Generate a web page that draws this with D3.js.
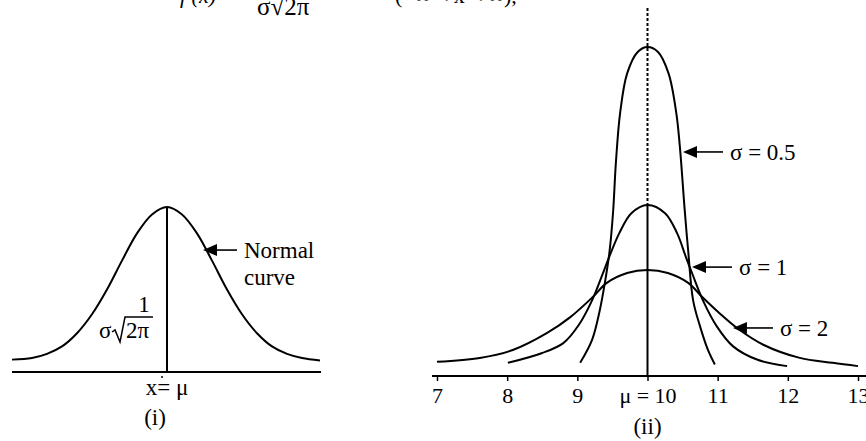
<!DOCTYPE html>
<html>
<head>
<meta charset="utf-8">
<script src="https://cdn.jsdelivr.net/npm/d3@7"></script>
<style>
  body { margin: 0; background: #fff; }
  svg { display: block; }
  text { font-family: "Liberation Serif", "Times New Roman", serif; fill: #000; }
</style>
</head>
<body>
<div id="chart"></div>
<script>
// panel (i): a normal curve, x in sigma units about the mean, height relative to the peak
const normX = [-3.1, -2.7, -2.4, -2.1, -1.8, -1.5, -1.2, -0.9, -0.6, -0.3, 0, 0.3, 0.6, 0.9, 1.2, 1.5, 1.8, 2.1, 2.4, 2.7, 3.06];
const normH = [0.075, 0.085, 0.11, 0.155, 0.235, 0.35, 0.5, 0.675, 0.84, 0.955, 1.0, 0.955, 0.84, 0.675, 0.5, 0.35, 0.235, 0.155, 0.11, 0.085, 0.07];

// panel (ii): three curves with mean 10, heights relative to the sigma = 0.5 peak
const s05X = [9.04, 9.21, 9.32, 9.39, 9.46, 9.51, 9.55, 9.61, 9.71, 9.86, 10.0, 10.15, 10.3, 10.41, 10.46, 10.53, 10.58, 10.65, 10.75, 10.86, 10.96];
const s05H = [0.04, 0.11, 0.2, 0.28, 0.38, 0.5, 0.65, 0.8, 0.92, 0.985, 1.0, 0.985, 0.92, 0.8, 0.7, 0.505, 0.38, 0.23, 0.15, 0.08, 0.035];

const s1X = [8.01, 8.5, 8.8, 9.02, 9.21, 9.36, 9.46, 9.6, 9.77, 10.0, 10.25, 10.42, 10.55, 10.64, 10.79, 10.99, 11.22, 11.56, 11.99];
const s1H = [0.04, 0.07, 0.1, 0.155, 0.23, 0.31, 0.365, 0.435, 0.495, 0.52, 0.495, 0.435, 0.36, 0.31, 0.23, 0.15, 0.09, 0.05, 0.03];

const s2X = [7.0, 7.61, 8.08, 8.57, 8.9, 9.22, 9.42, 9.71, 10.0, 10.29, 10.58, 10.78, 11.03, 11.28, 11.65, 12.17, 12.64, 13.0];
const s2H = [0.043, 0.055, 0.079, 0.131, 0.179, 0.24, 0.283, 0.313, 0.322, 0.313, 0.283, 0.24, 0.19, 0.145, 0.095, 0.055, 0.04, 0.03];

const ticks = [7, 8, 9, 10, 11, 12, 13];
const tickLabels = ["7", "8", "9", "\u03bc = 10", "11", "12", "13"];

// where the arrows touch the curves
const sigmaLabels = ["\u03c3 = 0.5", "\u03c3 = 1", "\u03c3 = 2"];
const sigmaArrowX = [10.506, 10.634, 11.218];
const sigmaArrowH = [0.681, 0.331, 0.146];

const W = 866, H = 441;
const svg = d3.select("#chart").append("svg")
    .attr("width", W)
    .attr("height", H);

// top line of the formula, cut off by the page edge (as in the scan)
svg.append("text").attr("x", 180).attr("y", 3)
    .style("font-size", "22px").style("font-style", "italic").text("f (x) =");
svg.append("text").attr("x", 257).attr("y", 15)
    .style("font-size", "25px").text("\u03c3\u221a2\u03c0");
svg.append("text").attr("x", 395).attr("y", 3)
    .style("font-size", "22px").text("(\u2212\u221e < x < \u221e),");

// ---------- panel (i)
const xL = d3.scaleLinear().domain([-3.1, 3.1]).range([12, 322]);
const yL = d3.scaleLinear().domain([0, 1]).range([372, 207]);

const left = svg.append("g");

left.append("line")
    .attr("x1", xL.range()[0]).attr("x2", xL.range()[1] - 1)
    .attr("y1", yL(0)).attr("y2", yL(0))
    .attr("stroke", "#000").attr("stroke-width", 2);

left.append("line")
    .attr("x1", xL(0)).attr("x2", xL(0))
    .attr("y1", yL(1)).attr("y2", yL(0))
    .attr("stroke", "#000").attr("stroke-width", 2);

const lineL = d3.line()
    .x(d => xL(d[0]))
    .y(d => yL(d[1]))
    .curve(d3.curveCatmullRom.alpha(0.5));

left.append("path")
    .datum(d3.zip(normX, normH))
    .attr("d", lineL)
    .attr("fill", "none")
    .attr("stroke", "#000")
    .attr("stroke-width", 2);

// peak height label 1 / (sigma sqrt(2 pi))
const cx = xL(0);
left.append("text").attr("x", cx - 23).attr("y", 312)
    .attr("text-anchor", "middle").style("font-size", "23px").text("1");
left.append("text").attr("x", cx - 68).attr("y", 338)
    .style("font-size", "23px").text("\u03c3");
left.append("path")
    .attr("d", `M${cx - 55},${332} L${cx - 52},${330} L${cx - 47},${342} L${cx - 42},${317} L${cx - 14},${317}`)
    .attr("fill", "none").attr("stroke", "#000").attr("stroke-width", 1.5);
left.append("text").attr("x", cx - 41).attr("y", 338)
    .style("font-size", "23px").text("2\u03c0");

left.append("circle").attr("cx", cx - 5).attr("cy", 377).attr("r", 1).attr("fill", "#000");
left.append("text").attr("x", cx).attr("y", 395)
    .attr("text-anchor", "middle").style("font-size", "23px").text("x= \u03bc");
left.append("text").attr("x", cx - 12).attr("y", 425)
    .attr("text-anchor", "middle").style("font-size", "23px").text("(i)");

// ---------- panel (ii)
const xR = d3.scaleLinear().domain([7, 13]).range([437, 858]);
const yR = d3.scaleLinear().domain([0, 1]).range([376, 47]);

const right = svg.append("g");

right.append("line")
    .attr("x1", 432).attr("x2", W)
    .attr("y1", yR(0)).attr("y2", yR(0))
    .attr("stroke", "#000").attr("stroke-width", 2);

const axis = right.append("g")
    .attr("transform", `translate(0,${yR(0)})`)
    .call(d3.axisBottom(xR)
        .tickValues(ticks)
        .tickSize(5)
        .tickSizeOuter(0)
        .tickPadding(6)
        .tickFormat((d, i) => tickLabels[i]));
axis.select(".domain").remove();
axis.selectAll(".tick line").attr("stroke", "#000").attr("stroke-width", 1.5);
axis.selectAll(".tick text")
    .style("font-family", "'Liberation Serif', 'Times New Roman', serif")
    .style("font-size", "22px")
    .attr("fill", "#000");

// mean line: dotted above the sigma = 1 peak, solid below
const s1Peak = d3.max(s1H);
right.append("line")
    .attr("x1", xR(10)).attr("x2", xR(10))
    .attr("y1", 8).attr("y2", yR(s1Peak))
    .attr("stroke", "#000").attr("stroke-width", 2)
    .attr("stroke-dasharray", "3,2");
right.append("line")
    .attr("x1", xR(10)).attr("x2", xR(10))
    .attr("y1", yR(s1Peak)).attr("y2", yR(0))
    .attr("stroke", "#000").attr("stroke-width", 2);

const lineR = d3.line()
    .x(d => xR(d[0]))
    .y(d => yR(d[1]))
    .curve(d3.curveCatmullRom.alpha(0.5));

[[s05X, s05H], [s1X, s1H], [s2X, s2H]].forEach(c => {
    right.append("path")
        .datum(d3.zip(c[0], c[1]))
        .attr("d", lineR)
        .attr("fill", "none")
        .attr("stroke", "#000")
        .attr("stroke-width", 2);
});

function arrow(g, tx, ty, len, label, fs) {
    g.append("path")
        .attr("d", `M${tx},${ty} L${tx + 14},${ty - 6} L${tx + 14},${ty + 6} Z`)
        .attr("fill", "#000");
    g.append("line")
        .attr("x1", tx + 10).attr("x2", tx + len)
        .attr("y1", ty).attr("y2", ty)
        .attr("stroke", "#000").attr("stroke-width", 1.6);
    g.append("text")
        .attr("x", tx + len + 7).attr("y", ty + 8)
        .style("font-size", fs + "px")
        .text(label);
}

sigmaLabels.forEach((lab, i) => {
    arrow(right, xR(sigmaArrowX[i]), yR(sigmaArrowH[i]), 40, lab, 23);
});

// "Normal curve" arrow on panel (i)
arrow(left, xL(0.72), yL(0.739), 34, "Normal", 23);
left.append("text").attr("x", xL(0.72) + 41).attr("y", 285)
    .style("font-size", "23px").text("curve");

right.append("text").attr("x", xR(10)).attr("y", 434)
    .attr("text-anchor", "middle").style("font-size", "23px").text("(ii)");
</script>
</body>
</html>
